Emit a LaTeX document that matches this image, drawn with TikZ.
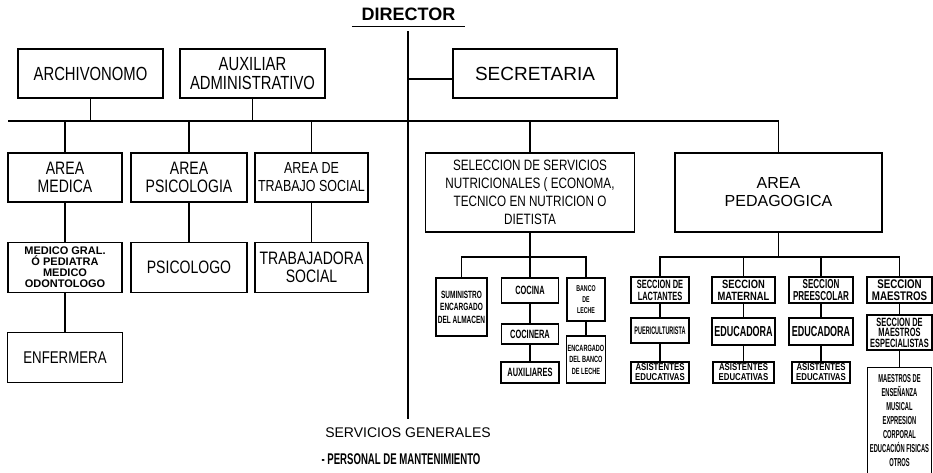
\documentclass[tikz,border=0pt]{standalone}
\usepackage{fontspec}
\setmainfont{Liberation Sans}
\newfontfamily\narrowfont[FakeStretch=0.78]{Liberation Sans}
\newfontfamily\condfont[FakeStretch=0.62]{Liberation Sans}
\newfontfamily\xcondfont[FakeStretch=0.5]{Liberation Sans}
\usetikzlibrary{positioning}

\begin{document}
\begin{tikzpicture}
    [
        x=1pt, y=-1pt, node distance=90pt, on grid,
        plain_box/.style={draw=black, line width=0.45mm, align=center, inner sep=0pt},
        big_box/.style={plain_box, font=\narrowfont\fontsize{19}{19}\selectfont, minimum width=145pt, minimum height=49pt},
        area_box/.style={plain_box, font=\narrowfont\fontsize{18}{18}\selectfont, minimum width=114pt, minimum height=49pt},
        small_box/.style={plain_box, font=\condfont\bfseries\fontsize{12}{12}\selectfont},
        tiny_box/.style={plain_box, font=\condfont\bfseries\fontsize{8.5}{11}\selectfont},
        sec_box/.style={plain_box, font=\narrowfont\bfseries\fontsize{12}{12}\selectfont, minimum height=26pt},
        edu_box/.style={plain_box, font=\condfont\bfseries\fontsize{14.5}{14.5}\selectfont, minimum height=27pt},
        asist_box/.style={plain_box, font=\narrowfont\bfseries\fontsize{10}{10}\selectfont, minimum height=21pt},
        link/.style={line width=0.45mm},
        trunk/.style={line width=0.9mm},
    ]
        \useasboundingbox (0,0) rectangle (933,472);

        % director and staff
        \node[font=\bfseries\fontsize{18}{18}\selectfont, inner sep=0pt, minimum width=113pt, minimum height=24pt] (director) at (408.5,14) {DIRECTOR};
        \draw[line width=0.4mm] (director.south west) -- (director.south east);
        \node[big_box] (archivo) at (90.5,73.5) {ARCHIVONOMO};
        \node[big_box] (auxiliar) at (252.5,73.5) {AUXILIAR\\ADMINISTRATIVO};
        \node[plain_box, font=\fontsize{19}{19}\selectfont, minimum width=164pt, minimum height=49pt] (secretaria) at (535,73.5) {SECRETARIA};

        % left areas
        \node[area_box] (medica) at (65,177.5) {AREA\\MEDICA};
        \node[area_box, minimum width=116pt] (psicologia) at (189,177.5) {AREA\\PSICOLOGIA};
        \node[area_box, minimum width=113pt, font=\narrowfont\fontsize{16}{18}\selectfont] (trabajo) at (311.5,177.5) {AREA DE\\TRABAJO SOCIAL};
        \node[area_box, font=\bfseries\fontsize{11}{11}\selectfont, minimum height=50pt] (medico) [below=of medica] {MEDICO GRAL.\\Ó PEDIATRA\\MEDICO\\ODONTOLOGO};
        \node[area_box, minimum width=116pt, minimum height=50pt] (psicologo) [below=of psicologia] {PSICOLOGO};
        \node[area_box, minimum width=113pt, minimum height=50pt] (trabajadora) [below=of trabajo] {TRABAJADORA\\SOCIAL};
        \node[area_box, minimum width=115pt, minimum height=50pt, font=\narrowfont\fontsize{17}{17}\selectfont] (enfermera) [below=of medico] {ENFERMERA};

        % right areas
        \node[plain_box, font=\narrowfont\fontsize{15}{18}\selectfont, minimum width=209pt, minimum height=79pt] (seleccion) at (530,192.5) {SELECCION DE SERVICIOS\\NUTRICIONALES ( ECONOMA,\\TECNICO EN NUTRICION O\\DIETISTA};
        \node[plain_box, font=\fontsize{16}{18}\selectfont, minimum width=207pt, minimum height=79pt] (pedagogica) at (778.5,192.5) {AREA\\PEDAGOGICA};

        % nutrition
        \node[small_box, font=\condfont\bfseries\fontsize{10.5}{12.5}\selectfont, minimum width=51pt, minimum height=58pt] (suministro) at (461.5,307) {SUMINISTRO\\ENCARGADO\\DEL ALMACEN};
        \node[small_box, minimum width=57pt, minimum height=25pt] (cocina) at (530,290.5) {COCINA};
        \node[small_box, minimum width=57pt, minimum height=20pt] (cocinera) [below=43.5pt of cocina] {COCINERA};
        \node[small_box, minimum width=58pt, minimum height=21pt] (auxiliares) [below=38.5pt of cocinera] {AUXILIARES};
        \node[tiny_box, minimum width=38pt, minimum height=43pt] (banco) at (586,299.5) {BANCO\\DE\\LECHE};
        \node[tiny_box, font=\condfont\bfseries\fontsize{9}{11.5}\selectfont, minimum width=39pt, minimum height=47pt] (encargado) [below=60pt of banco] {ENCARGADO\\DEL BANCO\\DE LECHE};

        % pedagogy
        \node[sec_box, font=\condfont\bfseries\fontsize{12}{12}\selectfont, minimum width=58pt] (lactantes) at (660,290) {SECCION DE\\LACTANTES};
        \node[small_box, font=\xcondfont\bfseries\fontsize{11}{11}\selectfont, minimum width=58pt, minimum height=25pt] (puericultura) [below=40.5pt of lactantes] {PUERICULTURISTA};
        \node[asist_box, minimum width=58pt] (asistentes1) [below=42pt of puericultura] {ASISTENTES\\EDUCATIVAS};
        \node[sec_box, minimum width=63pt] (maternal) at (743.5,290) {SECCION\\MATERNAL};
        \node[edu_box, minimum width=63pt] (educadora1) [below=41.5pt of maternal] {EDUCADORA};
        \node[asist_box, minimum width=61pt] (asistentes2) [below=41pt of educadora1] {ASISTENTES\\EDUCATIVAS};
        \node[sec_box, font=\condfont\bfseries\fontsize{13}{12}\selectfont, minimum width=64pt] (preescolar) at (821,290) {SECCION\\PREESCOLAR};
        \node[edu_box, minimum width=64pt] (educadora2) [below=41.5pt of preescolar] {EDUCADORA};
        \node[asist_box, minimum width=58pt] (asistentes3) [below=41pt of educadora2] {ASISTENTES\\EDUCATIVAS};
        \node[sec_box, font=\narrowfont\bfseries\fontsize{12.5}{12}\selectfont, minimum width=65pt] (maestros) at (899.5,290) {SECCION\\MAESTROS};
        \node[small_box, font=\condfont\bfseries\fontsize{12}{10.5}\selectfont, minimum width=65pt, minimum height=35pt] (especialistas) [below=42.5pt of maestros] {SECCION DE\\MAESTROS\\ESPECIALISTAS};
        \node[small_box, font=\xcondfont\bfseries\fontsize{11.5}{14}\selectfont, minimum width=64pt, minimum height=107pt] (ensenanza) [below=88.5pt of especialistas] {MAESTROS DE\\ENSEÑANZA\\MUSICAL\\EXPRESION\\CORPORAL\\EDUCACIÓN FISICAS\\OTROS};

        % general services
        \node[font=\fontsize{14}{14}\selectfont, inner ysep=9pt] (servicios) at (408,433) {SERVICIOS GENERALES};
        \node[font=\condfont\bfseries\fontsize{15.5}{15.5}\selectfont] (personal) at (401,459) {- PERSONAL DE MANTENIMIENTO};

        % trunk and bar
        \coordinate (trunk_top) at (408,31);
        \coordinate (bar_l) at (8,121);
        \coordinate (sec_tap) at (408,79);
        \coordinate (nut_fork) at (530,257);
        \coordinate (ped_fork) at (778.5,257);
        \draw[trunk] (trunk_top) -- (servicios.north);
        \draw[trunk] (bar_l) -- (bar_l -| pedagogica.north);
        \draw[link] (bar_l -| pedagogica.north) -- (pedagogica.north);
        \draw[link] (sec_tap) -- (sec_tap -| secretaria.west);
        \draw[link] (archivo.south) -- (archivo.south |- bar_l);
        \draw[link] (auxiliar.south) -- (auxiliar.south |- bar_l);
        \draw[link] (bar_l -| medica.north) -- (medica.north);
        \draw[link] (bar_l -| psicologia.north) -- (psicologia.north);
        \draw[link] (bar_l -| trabajo.north) -- (trabajo.north);
        \draw[link] (bar_l -| seleccion.north) -- (seleccion.north);

        % left chains
        \draw[link] (medica.south) -- (medico.north);
        \draw[link] (medico.south) -- (enfermera.north);
        \draw[link] (psicologia.south) -- (psicologo.north);
        \draw[link] (trabajo.south) -- (trabajadora.north);

        % nutrition links
        \draw[link] (seleccion.south) -- (cocina.north);
        \draw[link] (suministro.north) |- (nut_fork) -| (banco.north);
        \draw[link] (cocina.south) -- (cocinera.north);
        \draw[link] (cocinera.south) -- (auxiliares.north);
        \draw[link] (banco.south) -- (encargado.north);

        % pedagogy links
        \draw[link] (pedagogica.south) -- (ped_fork);
        \draw[link] (lactantes.north) |- (ped_fork) -| (maestros.north);
        \draw[link] (ped_fork -| maternal.north) -- (maternal.north);
        \draw[link] (ped_fork -| preescolar.north) -- (preescolar.north);
        \draw[link] (lactantes.south) -- (puericultura.north);
        \draw[link] (puericultura.south) -- (asistentes1.north);
        \draw[link] (maternal.south) -- (educadora1.north);
        \draw[link] (educadora1.south) -- (asistentes2.north);
        \draw[link] (preescolar.south) -- (educadora2.north);
        \draw[link] (educadora2.south) -- (asistentes3.north);
        \draw[link] (maestros.south) -- (especialistas.north);
        \draw[link] (especialistas.south) -- (ensenanza.north);
    \end{tikzpicture}
\end{document}
